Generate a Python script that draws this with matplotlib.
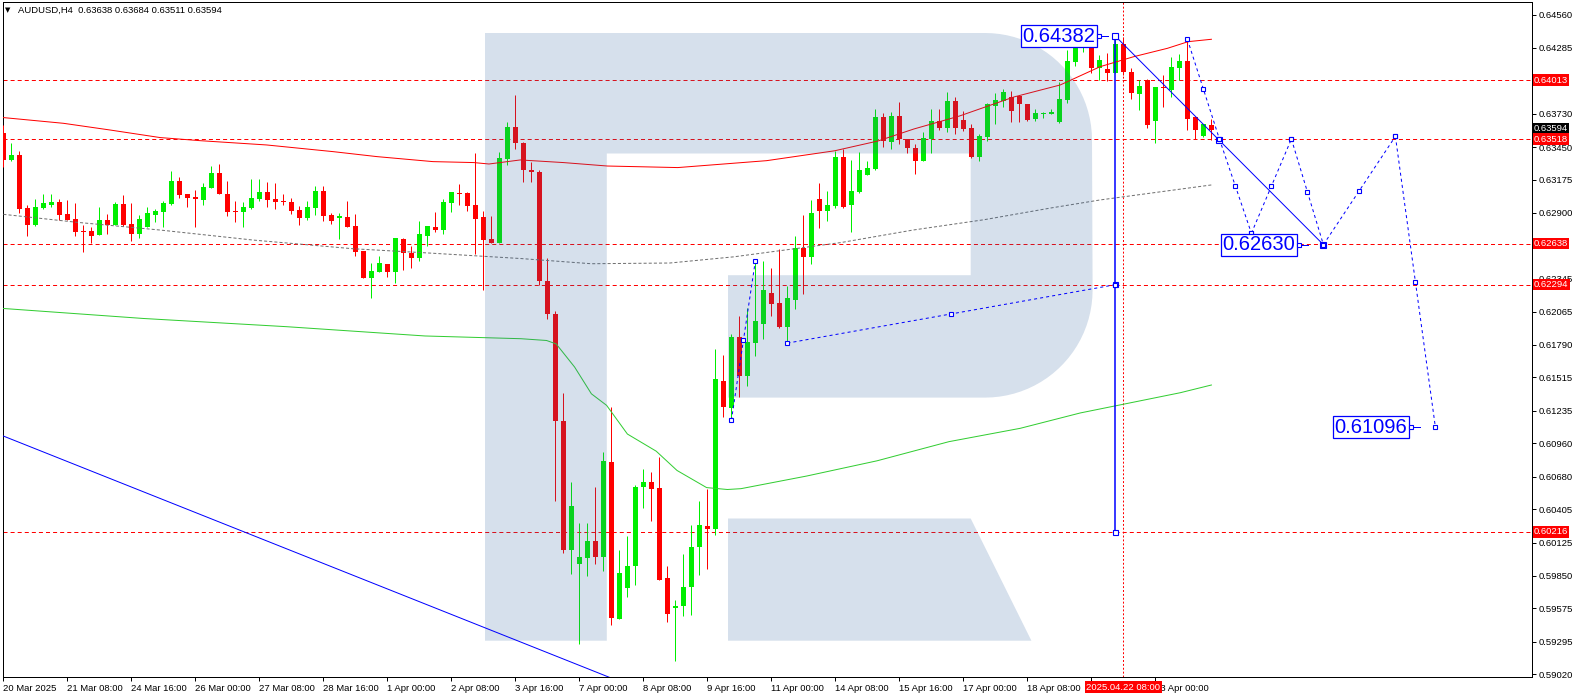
import numpy as np
import matplotlib
matplotlib.use("Agg")
import matplotlib.pyplot as plt
from matplotlib.patches import Polygon

plt.rcParams['lines.scale_dashes'] = False

# window header
header_text = "AUDUSD,H4  0.63638 0.63684 0.63511 0.63594"

# H4 candles, bar 0 = 20 Mar 2025 00:00
opens = [0.63566, 0.63342, 0.63384, 0.62939, 0.62799, 0.62939, 0.62964, 0.62989,
         0.62888, 0.62846, 0.62746, 0.62746, 0.62712, 0.62838, 0.62796, 0.62972,
         0.62804, 0.62723, 0.62782, 0.62883, 0.62908, 0.62972, 0.63166, 0.63056,
         0.63031, 0.63009, 0.63110, 0.63233, 0.63056, 0.62914, 0.62908, 0.62939,
         0.63014, 0.63073, 0.63014, 0.62998, 0.62989, 0.62922, 0.62858, 0.62942,
         0.63082, 0.62880, 0.62858, 0.62863, 0.62788, 0.62580, 0.62354, 0.62404,
         0.62468, 0.62404, 0.62678, 0.62564, 0.62522, 0.62706, 0.62779, 0.62757,
         0.62984, 0.63065, 0.63065, 0.62964, 0.62863, 0.62678, 0.62648, 0.63350,
         0.63619, 0.63488, 0.63256, 0.63243, 0.62327, 0.62047, 0.61145, 0.60068,
         0.59949, 0.59997, 0.60142, 0.60004, 0.60801, 0.59484, 0.59747, 0.59927,
         0.60592, 0.60640, 0.60582, 0.59827, 0.59574, 0.59590, 0.59750, 0.60088,
         0.60264, 0.60239, 0.61482, 0.61260, 0.61855, 0.61530, 0.61807, 0.61967,
         0.62221, 0.62141, 0.61941, 0.62166, 0.62600, 0.62526, 0.63018, 0.62912,
         0.62954, 0.63371, 0.62960, 0.63072, 0.63217, 0.63265, 0.63699, 0.63493,
         0.63709, 0.63522, 0.63442, 0.63333, 0.63522, 0.63670, 0.63612, 0.63837,
         0.63680, 0.63612, 0.63371, 0.63538, 0.63795, 0.63837, 0.63869, 0.63876,
         0.63811, 0.63683, 0.63728, 0.63731, 0.63660, 0.63846, 0.64162, 0.64286,
         0.64308, 0.64112, 0.64103, 0.64075, 0.64316, 0.64084, 0.63896, 0.64014,
         0.63672, 0.63958, 0.63930, 0.64118, 0.64176, 0.63700, 0.63543, 0.63638]
highs = [0.63636, 0.63482, 0.63418, 0.62964, 0.63014, 0.63056, 0.63056, 0.63014,
         0.63006, 0.62978, 0.62796, 0.62779, 0.62947, 0.62888, 0.62989, 0.63048,
         0.62981, 0.62880, 0.62947, 0.62930, 0.62998, 0.63250, 0.63199, 0.63056,
         0.63090, 0.63149, 0.63292, 0.63308, 0.63166, 0.62998, 0.62989, 0.63182,
         0.63182, 0.63157, 0.63149, 0.63056, 0.63023, 0.62956, 0.62998, 0.63124,
         0.63124, 0.62897, 0.62897, 0.62998, 0.62891, 0.62580, 0.62477, 0.62536,
         0.62468, 0.62687, 0.62687, 0.62620, 0.62830, 0.62788, 0.62905, 0.63014,
         0.63073, 0.63140, 0.63073, 0.63401, 0.62914, 0.62872, 0.63409, 0.63661,
         0.63888, 0.63493, 0.63323, 0.63259, 0.62520, 0.62070, 0.61386, 0.60634,
         0.60293, 0.60293, 0.60592, 0.60891, 0.61267, 0.60062, 0.60184, 0.60614,
         0.60743, 0.60720, 0.60849, 0.59927, 0.59644, 0.60030, 0.60277, 0.60473,
         0.60576, 0.61755, 0.61707, 0.61877, 0.62028, 0.62096, 0.62504, 0.62494,
         0.62430, 0.62590, 0.62285, 0.62703, 0.62880, 0.63008, 0.63146, 0.63082,
         0.63419, 0.63435, 0.63345, 0.63410, 0.63333, 0.63773, 0.63734, 0.63741,
         0.63831, 0.63522, 0.63480, 0.63574, 0.63766, 0.63773, 0.63911, 0.63869,
         0.63757, 0.63644, 0.63564, 0.63821, 0.63901, 0.63934, 0.63924, 0.63885,
         0.63811, 0.63766, 0.63744, 0.63766, 0.63998, 0.64266, 0.64336, 0.64400,
         0.64350, 0.64224, 0.64238, 0.64382, 0.64375, 0.64112, 0.64014, 0.64019,
         0.63958, 0.64056, 0.64210, 0.64232, 0.64356, 0.63700, 0.63641, 0.63684]
lows = [0.63280, 0.63336, 0.62900, 0.62706, 0.62790, 0.62933, 0.62944, 0.62838,
        0.62835, 0.62706, 0.62572, 0.62648, 0.62712, 0.62723, 0.62796, 0.62788,
        0.62664, 0.62690, 0.62782, 0.62824, 0.62779, 0.62964, 0.63026, 0.62950,
        0.62782, 0.62964, 0.63110, 0.63059, 0.62874, 0.62824, 0.62782, 0.62930,
        0.63000, 0.62950, 0.62933, 0.62964, 0.62891, 0.62799, 0.62841, 0.62883,
        0.62832, 0.62807, 0.62681, 0.62782, 0.62538, 0.62354, 0.62186, 0.62404,
        0.62362, 0.62312, 0.62421, 0.62438, 0.62496, 0.62622, 0.62740, 0.62723,
        0.62905, 0.62964, 0.62916, 0.62552, 0.62250, 0.62642, 0.62648, 0.63303,
        0.63437, 0.63153, 0.63153, 0.62288, 0.62006, 0.60480, 0.60036, 0.59859,
        0.59275, 0.59850, 0.59949, 0.59885, 0.59432, 0.59483, 0.59670, 0.59773,
        0.60415, 0.60312, 0.59814, 0.59458, 0.59130, 0.59506, 0.59516, 0.59853,
        0.59908, 0.60190, 0.61186, 0.61154, 0.61347, 0.61443, 0.61691, 0.61839,
        0.62028, 0.61932, 0.61803, 0.62092, 0.62215, 0.62465, 0.62770, 0.62825,
        0.62937, 0.62937, 0.62738, 0.63063, 0.63217, 0.63256, 0.63452, 0.63436,
        0.63477, 0.63403, 0.63220, 0.63333, 0.63403, 0.63596, 0.63574, 0.63564,
        0.63587, 0.63355, 0.63329, 0.63500, 0.63644, 0.63789, 0.63660, 0.63660,
        0.63667, 0.63670, 0.63693, 0.63731, 0.63654, 0.63823, 0.64134, 0.64250,
        0.64075, 0.64014, 0.64005, 0.64075, 0.64056, 0.63854, 0.63762, 0.63608,
        0.63487, 0.63784, 0.63868, 0.64014, 0.63594, 0.63518, 0.63538, 0.63511]
closes = [0.63342, 0.63384, 0.62933, 0.62799, 0.62947, 0.62981, 0.62989, 0.62883,
          0.62841, 0.62740, 0.62737, 0.62706, 0.62838, 0.62796, 0.62972, 0.62796,
          0.62723, 0.62846, 0.62897, 0.62914, 0.62981, 0.63166, 0.63051, 0.63026,
          0.63017, 0.63115, 0.63233, 0.63059, 0.62908, 0.62905, 0.62947, 0.63023,
          0.63073, 0.63009, 0.62992, 0.62992, 0.62916, 0.62858, 0.62947, 0.63082,
          0.62874, 0.62832, 0.62872, 0.62782, 0.62572, 0.62354, 0.62410, 0.62477,
          0.62404, 0.62687, 0.62564, 0.62522, 0.62720, 0.62788, 0.62757, 0.62989,
          0.63073, 0.63056, 0.62958, 0.62849, 0.62673, 0.62642, 0.63359, 0.63619,
          0.63488, 0.63259, 0.63243, 0.62327, 0.62047, 0.61145, 0.60068, 0.60431,
          0.60004, 0.60142, 0.60004, 0.60810, 0.59490, 0.59869, 0.59933, 0.60598,
          0.60640, 0.60576, 0.59814, 0.59525, 0.59593, 0.59757, 0.60094, 0.60271,
          0.60239, 0.61498, 0.61264, 0.61852, 0.61530, 0.61813, 0.61990, 0.62253,
          0.62134, 0.61941, 0.62182, 0.62600, 0.62526, 0.62899, 0.62912, 0.62963,
          0.63371, 0.62944, 0.63082, 0.63259, 0.63275, 0.63699, 0.63500, 0.63709,
          0.63522, 0.63442, 0.63333, 0.63525, 0.63670, 0.63612, 0.63837, 0.63612,
          0.63603, 0.63371, 0.63542, 0.63811, 0.63847, 0.63911, 0.63757, 0.63811,
          0.63676, 0.63734, 0.63734, 0.63741, 0.63853, 0.64174, 0.64286, 0.64330,
          0.64112, 0.64182, 0.64075, 0.64316, 0.64081, 0.63907, 0.63966, 0.63636,
          0.63958, 0.63944, 0.64126, 0.64176, 0.63686, 0.63594, 0.63641, 0.63594]

# moving averages (bar position, price)
ma_red_x = [0, 7.5, 13.3, 19.6, 24.6, 32.9, 41.2, 46.7, 53.7, 58.8, 60.7, 64.6,
            70, 75.5, 84.3, 95.4, 103.9, 109.3, 113.8, 119.5, 126.3, 132.1,
            137.1, 141.3, 145.5, 148.1, 151]
ma_red_y = [0.63698, 0.63650, 0.63594, 0.63530, 0.63504, 0.63468, 0.63412, 0.63370,
            0.63328, 0.63320, 0.63308, 0.63342, 0.63320, 0.63291, 0.63278, 0.63336,
            0.63419, 0.63501, 0.63602, 0.63711, 0.63871, 0.63972, 0.64126, 0.64210,
            0.64280, 0.64336, 0.64356]
ma_gray_x = [0, 9.2, 19.6, 31.2, 43.7, 53.7, 64.6, 73.5, 83.3, 91.3, 104.7, 113.7,
             122.6, 130.9, 137.1, 151]
ma_gray_y = [0.62885, 0.62818, 0.62753, 0.62669, 0.62596, 0.62558, 0.62514, 0.62470,
             0.62476, 0.62528, 0.62648, 0.62753, 0.62840, 0.62938, 0.63006, 0.63132]
ma_green_x = [0, 17.5, 35.4, 52.7, 64.7, 67.9, 69.1, 71.4, 73.5, 75.4, 78, 81.6,
              84.2, 87.9, 90.5, 92.2, 100.4, 109.2, 118.2, 127.1, 134.6, 147.1, 151]
ma_green_y = [0.62094, 0.62010, 0.61941, 0.61863, 0.61840, 0.61825, 0.61796, 0.61602,
              0.61377, 0.61280, 0.61039, 0.60895, 0.60733, 0.60589, 0.60573, 0.60580,
              0.60686, 0.60814, 0.60975, 0.61087, 0.61216, 0.61386, 0.61451]

# horizontal levels and the current price
levels = [0.64013, 0.63518, 0.62638, 0.62294, 0.60216]
last_price = 0.63594
marked_bar = 140  # 2025.04.22 08:00
marked_label = "2025.04.22 08:00"

# drawn objects
down_line = [(0, 0.61022), (76, 0.58988)]
measure_line = [(139, 0.64382), (139, 0.60216)]
target_line = [(139, 0.64382), (165, 0.62630)]
support_line = [(98, 0.61803), (139, 0.62294)]
swing_line = [(91, 0.61154), (94, 0.62497)]
forecast = [(148, 0.64356), (152, 0.63518), (156, 0.62726), (161, 0.63518),
            (165, 0.62630), (174, 0.63540), (179, 0.61096)]
tags = [(139, 0.64382, "0.64382", 18), (165, 0.62630, "0.62630", 26),
        (179, 0.61096, "0.61096", 26)]

price_ticks = [0.64560, 0.64285, 0.64010, 0.63730, 0.63450, 0.63175, 0.62900,
               0.62625, 0.62345, 0.62065, 0.61790, 0.61515, 0.61235, 0.60960,
               0.60680, 0.60405, 0.60125, 0.59850, 0.59575, 0.59295, 0.59020]
date_ticks = [0, 8, 16, 24, 32, 40, 48, 56, 64, 72, 80, 88, 96, 104, 112, 120,
              128, 136, 144]
date_labels = ["20 Mar 2025", "21 Mar 08:00", "24 Mar 16:00", "26 Mar 00:00",
               "27 Mar 08:00", "28 Mar 16:00", "1 Apr 00:00", "2 Apr 08:00",
               "3 Apr 16:00", "7 Apr 00:00", "8 Apr 08:00", "9 Apr 16:00",
               "11 Apr 00:00", "14 Apr 08:00", "15 Apr 16:00", "17 Apr 00:00",
               "18 Apr 08:00", "21 Apr 16:00", "23 Apr 00:00"]

BULL = '#00ee00'
BEAR = '#ff0000'
BLUE = '#0000ff'
FONT = ['Liberation Sans', 'DejaVu Sans']
PX = 0.72  # one pixel in points

W, H = 1578, 698
L, R, T, B = 3, 1532, 2, 677
fig = plt.figure(figsize=(W / 100, H / 100), dpi=100)
ax = fig.add_axes([L / W, 1 - B / H, (R - L) / W, (B - T) / H])
ax.set_xlim(-0.05, (R - 3.4) / 8)
ax.set_ylim(0.589975, 0.646692)
ax.set_facecolor('white')

for s in ax.spines.values():
    s.set_color('black')
    s.set_linewidth(PX)

# levels
for lv in levels:
    ax.axhline(lv, color=BEAR, lw=PX, dashes=(2.9, 2.2), zorder=1)
ax.axvline(marked_bar, color=BEAR, lw=PX, dashes=(1.4, 1.4), zorder=1)

# candles
o, h, l, c = map(np.array, (opens, highs, lows, closes))
idx = np.arange(len(o))
cols = np.where(c >= o, BULL, BEAR)
one_px = (0.646692 - 0.589975) / (B - T)
ax.vlines(idx, l, h, colors=cols, lw=PX, zorder=3)
ax.bar(idx, np.maximum(np.abs(c - o), one_px), bottom=np.minimum(o, c),
       width=0.6, color=cols, linewidth=0, zorder=3)

# moving averages
ax.plot(ma_red_x, ma_red_y, color='#ff0000', lw=PX, zorder=3.5)
ax.plot(ma_green_x, ma_green_y, color='#32cd32', lw=PX, zorder=3.5)
ax.plot(ma_gray_x, ma_gray_y, color='#707070', lw=PX, dashes=(2.2, 1.5), zorder=3.5)

# watermark logo, in pixel coordinates of the picture
def to_axes(pts):
    return [((x - L) / (R - L), (B - y) / (B - T)) for x, y in pts]

th = np.linspace(0, np.pi / 2, 24)
top_arc = [(985 + 107 * np.sin(t), 140 - 107 * np.cos(t)) for t in th]
bot_arc = [(985 + 107.6 * np.cos(t), 290 + 107.6 * np.sin(t)) for t in th]
outline = ([(485, 33)] + top_arc + bot_arc +
           [(728, 397.6), (728, 275.2), (970.7, 275.2), (970.7, 153.5),
            (606.8, 153.5), (606.8, 640.7), (485, 640.7)])
leg = [(728, 518.5), (970.7, 518.5), (1031.4, 640.7), (728, 640.7)]
for shape in (outline, leg):
    ax.add_patch(Polygon(to_axes(shape), closed=True, transform=ax.transAxes,
                         fc=(50 / 255, 100 / 255, 160 / 255), alpha=0.2,
                         ec='none', zorder=4))

# blue objects
def segment(pts, dotted, lw=PX):
    (x1, y1), (x2, y2) = pts
    kw = dict(dashes=(2.2, 2.2)) if dotted else {}
    ax.plot([x1, x2], [y1, y2], color=BLUE, lw=lw, zorder=5, **kw)

def marks(pts, size=3.2):
    (x1, y1), (x2, y2) = pts
    ax.plot([x1, (x1 + x2) / 2, x2], [y1, (y1 + y2) / 2, y2], 's', ms=size,
            mfc='white', mec=BLUE, mew=0.8, zorder=6)

segment(down_line, False)
segment(measure_line, False, lw=1.1)
marks(measure_line, 3.6)
segment(target_line, False)
marks(target_line, 4.2)
segment(support_line, True)
marks(support_line)
segment(swing_line, True)
marks(swing_line)
for a, b in zip(forecast[:-1], forecast[1:]):
    segment((a, b), True)
    marks((a, b))

for bar, price, txt, gap in tags:
    ax.annotate(txt, xy=(bar, price), xytext=(-gap - 2, 0), textcoords='offset pixels',
                ha='right', va='center', fontsize=14.5, color=BLUE, family=FONT,
                bbox=dict(boxstyle='square,pad=0.08', fc='white', ec=BLUE, lw=0.9),
                zorder=8)
    ax.plot([bar - (gap - 2) / 8, bar - (gap - 11) / 8], [price, price], color=BLUE,
            lw=PX, zorder=8)
    ax.plot([bar - (gap - 2) / 8], [price], 's', ms=2.5, mfc='white', mec=BLUE,
            mew=0.8, zorder=8)

# axes ticks; labels sitting fully under a level tag or the date tag are not shown
tick_px = (0.646692 - 0.589975) / (B - T)
ax.yaxis.tick_right()
ax.set_yticks(price_ticks)
ax.set_yticklabels(["" if min(abs(v - lv) for lv in levels) < 3 * tick_px
                    else f"{v:.5f}" for v in price_ticks])
ax.set_xticks(date_ticks)
ax.set_xticklabels(["" if marked_bar - 8 < t <= marked_bar else s
                    for t, s in zip(date_ticks, date_labels)], ha='left')
ax.tick_params(axis='both', direction='out', length=2.9, width=PX, colors='black',
               labelsize=6.8, pad=2)
for lab in ax.get_xticklabels() + ax.get_yticklabels():
    lab.set_family(FONT)

# price tags on the right scale
ax.annotate(f"{last_price:.5f}", xy=(1, last_price), xycoords=('axes fraction', 'data'),
            xytext=(2, 1), textcoords='offset pixels', ha='left', va='center',
            fontsize=6.8, color='white', family=FONT, annotation_clip=False,
            bbox=dict(boxstyle='square,pad=0.12', fc='black', ec='none'), zorder=9)
for lv in levels:
    ax.annotate(f"{lv:.5f}", xy=(1, lv), xycoords=('axes fraction', 'data'),
                xytext=(2, 0), textcoords='offset pixels', ha='left', va='center',
                fontsize=6.8, color='white', family=FONT, annotation_clip=False,
                bbox=dict(boxstyle='square,pad=0.12', fc=BEAR, ec='none'), zorder=10)

ax.annotate(marked_label, xy=(marked_bar, 0), xycoords=('data', 'axes fraction'),
            xytext=(0, -10), textcoords='offset pixels', ha='center', va='center',
            fontsize=6.8, color='white', family=FONT, annotation_clip=False,
            bbox=dict(boxstyle='square,pad=0.15', fc=BEAR, ec='none'), zorder=10)

# header
fig.text(5 / W, 1 - 10.5 / H, '\u25bc', fontsize=5, family='DejaVu Sans', va='center')
fig.text(18 / W, 1 - 10.5 / H, header_text, fontsize=6.8, family=FONT, va='center')

fig.savefig('out.png', dpi=100)
